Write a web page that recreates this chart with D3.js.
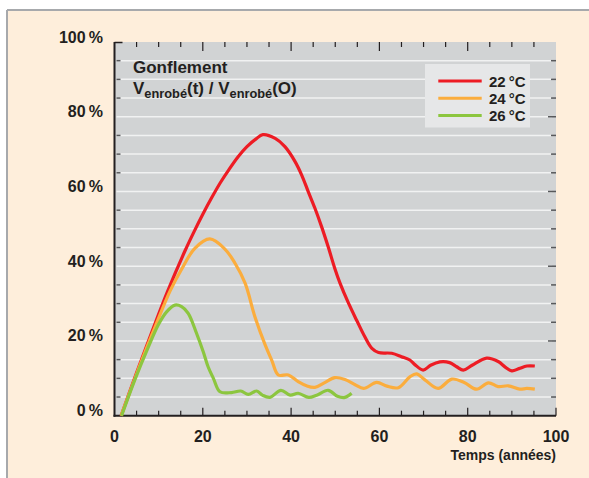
<!DOCTYPE html>
<html><head><meta charset="utf-8">
<script src="https://cdn.jsdelivr.net/npm/d3@7"></script>
<style>html,body{margin:0;padding:0;background:#fff;}svg{display:block;font-family:"Liberation Sans",Arial,Helvetica,sans-serif;}</style>
</head><body>
<script>
// ---- data (time in years, value in %) ----
const series22 = [[1.5,0],[5,11.5],[8.5,22.5],[12,33.2],[16,44.2],[18,49.2],[20,53.9],[22,58.3],[24,62.4],[26,66],[28,69.3],[30,72],[32,74],[33.6,75.2],[36.4,74.2],[38.6,72],[40.9,68],[42.4,64.4],[43.9,59.9],[45.4,55.5],[46.9,50.6],[48.4,45.2],[49.9,39.4],[51.1,35.4],[53,30.1],[54.9,25.4],[56.7,21.1],[58.3,18],[59.8,16.9],[62.8,16.7],[65,15.8],[66.9,14.9],[68.1,13.6],[69.9,12.2],[71.6,13.5],[73.7,14.4],[75.9,14.2],[77.5,13.1],[79,12.2],[81,13.5],[84.3,15.4],[86.9,14.5],[88.5,13],[90,12],[91.6,12.6],[93.4,13.3],[95.2,13.3]];
const series24 = [[1.5,0],[4.6,9.9],[7.5,18.8],[9.2,23.8],[12.6,33.4],[15.2,39.2],[18.2,44.8],[21.6,47.3],[25,44.6],[27.3,40.8],[29.6,35.4],[31.8,26.5],[34.1,19],[35.6,14.9],[37.1,10.9],[39.4,10.9],[41.6,9.1],[43.5,8],[45.4,7.6],[47.5,8.8],[49.9,10.2],[52.2,9.7],[54.5,8.3],[56.4,7.3],[59.4,8.9],[61.7,7.9],[64.3,7.5],[66.9,10.4],[68.4,11.2],[70.3,9.6],[73.3,7.3],[76.4,9.8],[79.2,8.9],[82,7.1],[84.7,8.8],[86.9,7.8],[89.2,8],[91.8,7.1],[93.4,7.3],[95.2,7.1]];
const series26 = [[1.6,0],[4.6,9.6],[7.7,18.5],[9.9,24.3],[11.8,27.8],[13.7,29.6],[15.2,29.2],[16.7,27.4],[18.6,22],[20.1,17.1],[21.2,13.1],[22.4,10],[23.9,6.4],[26.5,6.2],[28.6,6.6],[30.3,5.7],[32.2,6.6],[33.5,5.5],[35.2,4.9],[37.7,6.8],[39.8,5.5],[41.6,6],[44,4.9],[45.8,5.5],[48.4,6.8],[50.5,5.2],[52.2,4.9],[53.7,6]];
const seriesNames = ["22\u2009°C","24\u2009°C","26\u2009°C"];
const seriesColors = ["#ed1c24","#fbad3d","#8cc63f"];
const xTickLabels = [0,20,40,60,80,100];
const yTickLabels = [0,20,40,60,80,100];
const xAxisTitle = "Temps (années)";

const W = 589, H = 478;
const svg = d3.select("body").append("svg").attr("width", W).attr("height", H);

// frame
svg.append("rect").attr("x",7).attr("y",10).attr("width",W-7).attr("height",H-10).attr("fill","#feeedb");
svg.append("line").attr("x1",7).attr("x2",W).attr("y1",10).attr("y2",10).attr("stroke","#a7a9ac").attr("stroke-width",2);
svg.append("line").attr("x1",7).attr("x2",7).attr("y1",10).attr("y2",H).attr("stroke","#a7a9ac").attr("stroke-width",2);

const x = d3.scaleLinear().domain([0,100]).range([114.5,556]);
const y = d3.scaleLinear().domain([0,100]).range([415.7,42]);

// plot bg
svg.append("rect").attr("x",x(0)).attr("y",y(100)).attr("width",x(100)-x(0)).attr("height",y(0)-y(100)).attr("fill","#d1d3d4");

// gridlines every 5%
const gridVals = d3.range(5,100,5);
svg.append("g").selectAll("line").data(gridVals).join("line")
  .attr("x1",x(0)+2).attr("x2",x(100)-4)
  .attr("y1",d=>y(d)).attr("y2",d=>y(d))
  .attr("stroke","#f1f2f2").attr("stroke-width",1.5);

const tickCol = "#58595b";
// left minor ticks
svg.append("g").selectAll("line").data(gridVals.filter(d=>d%20)).join("line")
  .attr("x1",x(0)+2).attr("x2",x(0)+6).attr("y1",d=>y(d)).attr("y2",d=>y(d))
  .attr("stroke",tickCol).attr("stroke-width",1.5);
// right ticks
svg.append("g").selectAll("line").data(gridVals).join("line")
  .attr("x1",d=>x(100)-(d%20?5:8)).attr("x2",x(100)).attr("y1",d=>y(d)).attr("y2",d=>y(d))
  .attr("stroke",tickCol).attr("stroke-width",1.5);
// top-left corner tick
svg.append("line").attr("x1",x(0)).attr("x2",x(0)+8).attr("y1",y(100)+0.5).attr("y2",y(100)+0.5).attr("stroke","#231f20").attr("stroke-width",1.5);

// x ticks top and bottom
const xt = d3.range(5,100,5);
svg.append("g").selectAll("line").data(xt).join("line")
  .attr("x1",d=>x(d)).attr("x2",d=>x(d)).attr("y1",y(100)).attr("y2",d=>y(100)+(d%20?5:9))
  .attr("stroke","#231f20").attr("stroke-width",1.2);
svg.append("g").selectAll("line").data(xt.concat([100])).join("line")
  .attr("x1",d=>x(d)).attr("x2",d=>x(d)).attr("y1",y(0)).attr("y2",d=>y(0)-(d%20?5:8))
  .attr("stroke","#231f20").attr("stroke-width",1.2);

// axis lines
svg.append("line").attr("x1",x(0)).attr("x2",x(0)).attr("y1",y(100)).attr("y2",y(0)+1).attr("stroke","#231f20").attr("stroke-width",2);
svg.append("line").attr("x1",x(0)-1).attr("x2",x(100)).attr("y1",y(0)).attr("y2",y(0)).attr("stroke","#231f20").attr("stroke-width",2);

// tick labels
const txtCol = "#231f20";
svg.append("g").selectAll("text").data(yTickLabels).join("text")
  .attr("x",103).attr("y",d=>y(d)+0.5).attr("text-anchor","end")
  .attr("font-size",16).attr("font-weight","bold").attr("fill",txtCol)
  .text(d=>d+"\u2009%");
svg.append("g").selectAll("text").data(xTickLabels).join("text")
  .attr("x",d=>x(d)).attr("y",442).attr("text-anchor","middle")
  .attr("font-size",16).attr("font-weight","bold").attr("fill",txtCol)
  .text(d=>d);
svg.append("text").attr("x",x(100)).attr("y",460).attr("text-anchor","end")
  .attr("font-size",14).attr("font-weight","bold").attr("fill",txtCol).text(xAxisTitle);

// title
svg.append("text").attr("x",133).attr("y",73.3).attr("font-size",17).attr("font-weight","bold").attr("fill",txtCol).text("Gonflement");
const t2 = svg.append("text").attr("x",133).attr("y",94).attr("font-size",17).attr("font-weight","bold").attr("fill",txtCol);
t2.append("tspan").text("V");
t2.append("tspan").attr("font-size",12.8).attr("dy",4).text("enrobé");
t2.append("tspan").attr("dy",-4).text("(t) / V");
t2.append("tspan").attr("font-size",12.8).attr("dy",4).text("enrobé");
t2.append("tspan").attr("dy",-4).text("(O)");

// curves
const line = d3.line().x(d=>x(d[0])).y(d=>y(d[1])).curve(d3.curveCatmullRom.alpha(0.5));
const allSeries = [series22, series24, series26];
svg.append("g").selectAll("path").data(allSeries).join("path")
  .attr("d",line).attr("fill","none")
  .attr("stroke",(d,i)=>seriesColors[i]).attr("stroke-width",3.2)
  .attr("stroke-linejoin","round").attr("stroke-linecap","butt");

// legend
svg.append("rect").attr("x",425).attr("y",64).attr("width",105).attr("height",63.5).attr("fill","#e6e7e8");
const lg = svg.append("g").selectAll("g").data(seriesNames).join("g")
  .attr("transform",(d,i)=>`translate(0,${81+i*17.2})`);
lg.append("line").attr("x1",438.3).attr("x2",481.7).attr("y1",0).attr("y2",0)
  .attr("stroke",(d,i)=>seriesColors[i]).attr("stroke-width",3);
lg.append("text").attr("x",489).attr("y",5.5).attr("font-size",15).attr("font-weight","bold").attr("fill",txtCol).text(d=>d);
</script>
</body></html>
